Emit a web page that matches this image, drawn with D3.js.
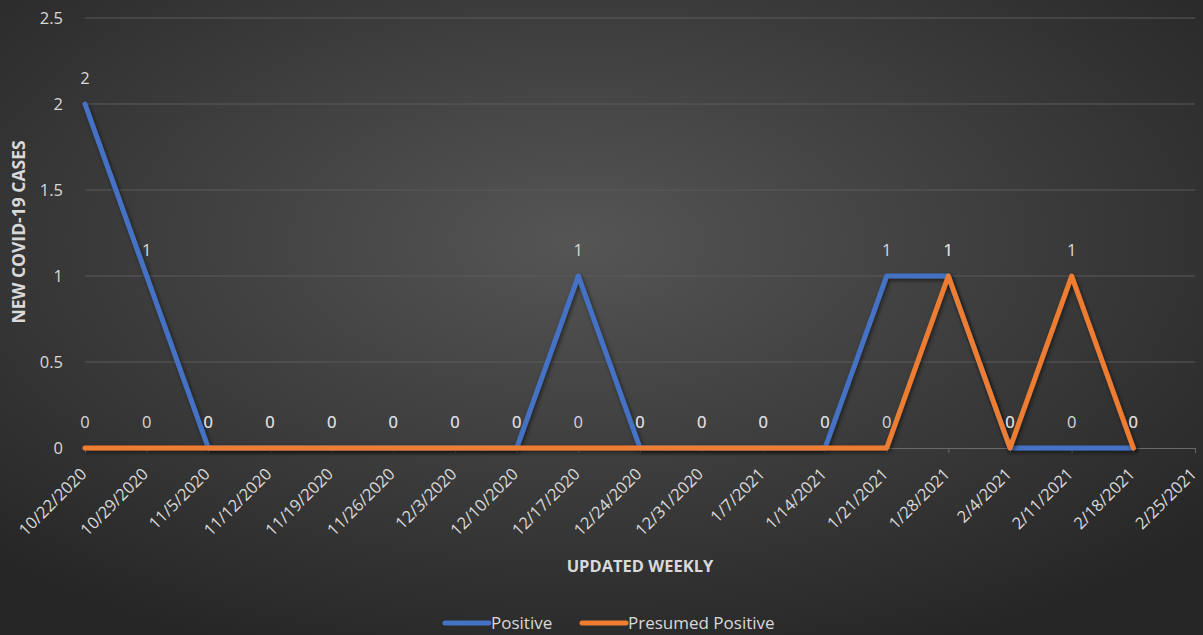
<!DOCTYPE html>
<html lang="en">
<head>
<meta charset="UTF-8">
<title>New COVID-19 cases</title>
<script src="https://d3js.org/d3.v7.min.js"></script>
<style>
  html, body { margin: 0; padding: 0; background: #262626; }
  svg { display: block; font-family: "Open Sans", "Noto Sans", sans-serif; }
</style>
</head>
<body>
<svg width="1203" height="635"></svg>
<script>
// weekly update dates (last one has no data yet)
const dates = ["10/22/2020","10/29/2020","11/5/2020","11/12/2020","11/19/2020","11/26/2020",
  "12/3/2020","12/10/2020","12/17/2020","12/24/2020","12/31/2020","1/7/2021","1/14/2021",
  "1/21/2021","1/28/2021","2/4/2021","2/11/2021","2/18/2021","2/25/2021"];
const positive =         [2,1,0,0,0,0,0,0,1,0,0,0,0,1,1,0,0,0];
const presumedPositive = [0,0,0,0,0,0,0,0,0,0,0,0,0,0,1,0,1,0];
const yTicks = [0, 0.5, 1, 1.5, 2, 2.5];

const series = [
  { name: "Positive", values: positive, color: "#4472C4" },
  { name: "Presumed Positive", values: presumedPositive, color: "#ED7D31" }
];

const W = 1203, H = 635;
const svg = d3.select("svg");
const defs = svg.append("defs");

// background: soft radial glow
const grad = defs.append("radialGradient").attr("id", "bg")
  .attr("cx", "48%").attr("cy", "38%").attr("r", "70%");
grad.append("stop").attr("offset", "0%").attr("stop-color", "#555555");
grad.append("stop").attr("offset", "100%").attr("stop-color", "#262626");
svg.append("rect").attr("width", W).attr("height", H).attr("fill", "url(#bg)");

const shadow = defs.append("filter").attr("id", "shadow")
  .attr("x", "-10%").attr("y", "-10%").attr("width", "120%").attr("height", "120%");
shadow.append("feDropShadow").attr("dx", 1.5).attr("dy", 2).attr("stdDeviation", 2)
  .attr("flood-color", "#000").attr("flood-opacity", 0.55);

const x = d3.scalePoint().domain(dates).range([85, 1195]);
const y = d3.scaleLinear().domain([0, 2.5]).range([448, 18]);

const textColor = "#d9d9d9";
const fs = 16.5;

// gridlines
svg.append("g").selectAll("line").data(yTicks.filter(d => d > 0)).join("line")
  .attr("x1", 85).attr("x2", 1195)
  .attr("y1", d => y(d)).attr("y2", d => y(d))
  .attr("stroke", "#5a5a5a").attr("stroke-width", 1);

// y axis labels
const yAxis = svg.append("g").attr("transform", "translate(63,0)")
  .call(d3.axisLeft(y).tickValues(yTicks).tickSize(0).tickPadding(0).tickFormat(d3.format("")));
yAxis.select(".domain").remove();
yAxis.selectAll("text").attr("fill", textColor).attr("font-size", fs)
  .attr("font-family", "'Open Sans', sans-serif");

// x axis
const xAxis = svg.append("g").attr("transform", `translate(0,${y(0)})`)
  .call(d3.axisBottom(x).tickSize(5).tickPadding(6));
xAxis.select(".domain").attr("stroke", "#6a6a6a").attr("d", "M85,0.5H1195");
xAxis.selectAll(".tick line").attr("stroke", "#6a6a6a");
xAxis.selectAll("text")
  .attr("fill", textColor).attr("font-size", fs)
  .attr("font-family", "'Open Sans', sans-serif")
  .attr("text-anchor", "end")
  .attr("y", 0)
  .attr("dy", "0.35em")
  .attr("transform", "translate(-2,23) rotate(-45)");

// lines
const line = d3.line().x((d, i) => x(dates[i])).y(d => y(d));
series.forEach(s => {
  svg.append("path").datum(s.values)
    .attr("d", line)
    .attr("fill", "none")
    .attr("stroke", s.color)
    .attr("stroke-width", 5)
    .attr("stroke-linejoin", "round")
    .attr("stroke-linecap", "round")
    .attr("filter", "url(#shadow)");
});

// data labels above each point
series.forEach(s => {
  svg.append("g").selectAll("text").data(s.values).join("text")
    .attr("x", (d, i) => x(dates[i]))
    .attr("y", d => y(d) - 20)
    .attr("text-anchor", "middle")
    .attr("fill", textColor)
    .attr("font-size", fs)
    .text(d => d);
});

// axis titles
svg.append("text")
  .attr("transform", "translate(25,232) rotate(-90)")
  .attr("text-anchor", "middle")
  .attr("fill", textColor).attr("font-size", 17.5).attr("font-weight", "bold")
  .text("NEW COVID-19 CASES");
svg.append("text")
  .attr("x", 640).attr("y", 572)
  .attr("text-anchor", "middle")
  .attr("fill", textColor).attr("font-size", 16.5).attr("font-weight", "bold")
  .text("UPDATED WEEKLY");

// legend
const legendX = [443, 580];
series.forEach((s, i) => {
  const g = svg.append("g").attr("transform", `translate(${legendX[i]},623)`);
  g.append("line").attr("x1", 2).attr("x2", 46).attr("y1", 0).attr("y2", 0)
    .attr("stroke", s.color).attr("stroke-width", 5).attr("stroke-linecap", "round");
  g.append("text").attr("x", 48).attr("dy", "0.35em")
    .attr("fill", textColor).attr("font-size", 17).text(s.name);
});
</script>
</body>
</html>
